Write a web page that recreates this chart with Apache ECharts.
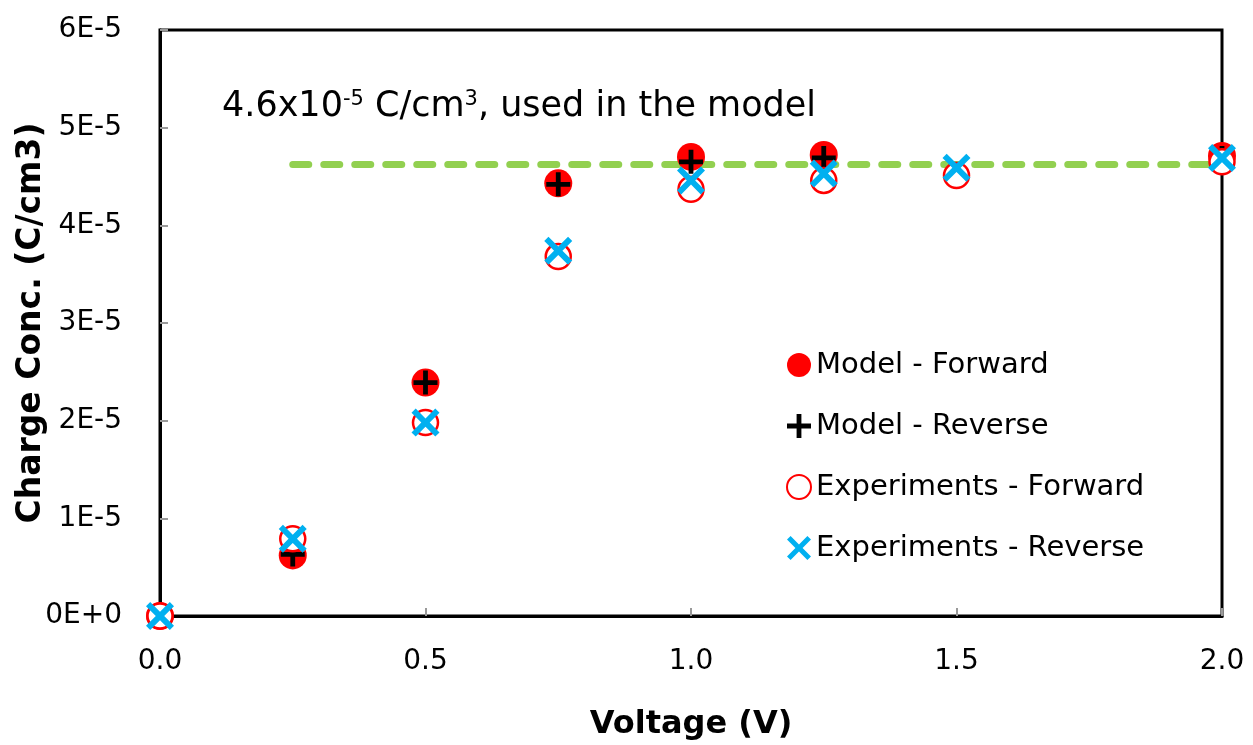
<!DOCTYPE html>
<html>
<head>
<meta charset="utf-8">
<script src="https://cdn.jsdelivr.net/npm/echarts@6/dist/echarts.min.js"></script>
<style>
html,body{margin:0;padding:0;background:#fff;}
#chart{width:1253px;height:745px;}
</style>
</head>
<body>
<div id="chart"></div>
<script>
// ---- data ----
var modelVoltage = [0, 0.25, 0.5, 0.75, 1.0, 1.25, 2.0];
var modelForward = [0, 0.62e-5, 2.39e-5, 4.43e-5, 4.70e-5, 4.72e-5, 4.71e-5];
var modelReverse = [0, 0.63e-5, 2.39e-5, 4.42e-5, 4.65e-5, 4.69e-5, 4.69e-5];
var expVoltage = [0, 0.25, 0.5, 0.75, 1.0, 1.25, 1.5, 2.0];
var expForward = [0, 0.79e-5, 1.98e-5, 3.68e-5, 4.37e-5, 4.46e-5, 4.51e-5, 4.65e-5];
var expReverse = [0, 0.79e-5, 1.98e-5, 3.74e-5, 4.46e-5, 4.53e-5, 4.59e-5, 4.69e-5];
var modelValue = 4.63e-5;
var modelLineStart = 0.25;
var modelLineEnd = 2.0;
var seriesNames = ['Model - Forward', 'Model - Reverse', 'Experiments - Forward', 'Experiments - Reverse'];
var xTickLabels = ['0.0', '0.5', '1.0', '1.5', '2.0'];
var yTickLabels = ['0E+0', '1E-5', '2E-5', '3E-5', '4E-5', '5E-5', '6E-5'];

function pairs(xs, ys) { return xs.map(function (x, i) { return [x, ys[i]]; }); }

var FONT = '"DejaVu Sans"';
var plusPath = 'path://M-1,-5 H1 V-1 H5 V1 H1 V5 H-1 V1 H-5 V-1 H-1 Z';
var xPath = 'path://M-5,-3.5 L-3.5,-5 L0,-1.5 L3.5,-5 L5,-3.5 L1.5,0 L5,3.5 L3.5,5 L0,1.5 L-3.5,5 L-5,3.5 L-1.5,0 Z';

var chart = echarts.init(document.getElementById('chart'), null, {renderer: 'canvas'});
var option = {
  backgroundColor: '#fff',
  animation: false,
  textStyle: {fontFamily: FONT},
  grid: {left: 160, right: 31, top: 30, bottom: 129, containLabel: false, outerBoundsMode: 'none',
    show: true, borderColor: '#000', borderWidth: 3, backgroundColor: 'transparent'},
  xAxis: {
    type: 'value', min: 0, max: 2, interval: 0.5,
    name: 'Voltage (V)', nameLocation: 'middle', nameGap: 93, nameMoveOverlap: false,
    nameTextStyle: {fontSize: 32, fontWeight: 'bold', color: '#000', fontFamily: FONT},
    axisLine: {show: true, lineStyle: {color: '#000', width: 3}},
    axisTick: {show: true, inside: true, length: 8, lineStyle: {color: '#999', width: 2}},
    axisLabel: {fontSize: 28, color: '#000', margin: 32, fontFamily: FONT,
      formatter: function (v) { return xTickLabels[Math.round(v / 0.5)]; }},
    splitLine: {show: false}
  },
  yAxis: {
    type: 'value', min: 0, max: 6e-5, interval: 1e-5,
    name: 'Charge Conc. (C/cm3)', nameLocation: 'middle', nameGap: 112, nameRotate: 90, nameMoveOverlap: false,
    nameTextStyle: {fontSize: 33, fontWeight: 'bold', color: '#000', fontFamily: FONT},
    axisLine: {show: true, lineStyle: {color: '#000', width: 3}},
    axisTick: {show: true, inside: true, length: 8, lineStyle: {color: '#999', width: 2}},
    axisLabel: {fontSize: 28, color: '#000', margin: 38, fontFamily: FONT,
      formatter: function (v) { return yTickLabels[Math.round(v / 1e-5)]; }},
    splitLine: {show: false}
  },
  legend: {
    orient: 'vertical', left: 781, top: 345,
    itemWidth: 24, itemHeight: 24, itemGap: 31,
    textStyle: {fontSize: 29, color: '#000', lineHeight: 30, fontFamily: FONT},
    data: [
      {name: seriesNames[0], icon: 'circle'},
      {name: seriesNames[1], icon: plusPath},
      {name: seriesNames[2], icon: 'circle'},
      {name: seriesNames[3], icon: xPath}
    ]
  },
  graphic: [{
    type: 'text', left: 222, top: 89, z: 10,
    style: {
      text: '4.6x10{sup|-5} C/cm{sup|3}, used in the model',
      font: '35px ' + FONT, fill: '#000',
      rich: {sup: {fontSize: 21, verticalAlign: 'top', padding: [0, 0, 14, 0], fontFamily: FONT, fill: '#000'}}
    }
  }],
  series: [
    {
      name: seriesNames[0], type: 'scatter', clip: false, z: 2,
      symbol: 'circle', symbolSize: 28,
      itemStyle: {color: '#FF0000', opacity: 1},
      data: pairs(modelVoltage, modelForward),
      markLine: {
        silent: true, symbol: 'none', z: 1,
        lineStyle: {color: '#92D050', width: 7, type: [16, 15], cap: 'round', opacity: 1},
        label: {show: false},
        data: [[{coord: [modelLineStart, modelValue]}, {coord: [modelLineEnd, modelValue]}]]
      }
    },
    {
      name: seriesNames[1], type: 'scatter', clip: false, z: 3,
      symbol: plusPath, symbolSize: 24,
      itemStyle: {color: '#000', opacity: 1},
      data: pairs(modelVoltage, modelReverse)
    },
    {
      name: seriesNames[2], type: 'scatter', clip: false, z: 4,
      symbol: 'circle', symbolSize: 25,
      itemStyle: {color: '#fff', borderColor: '#FF0000', borderWidth: 2.5, opacity: 1},
      data: pairs(expVoltage, expForward)
    },
    {
      name: seriesNames[3], type: 'scatter', clip: false, z: 5,
      symbol: xPath, symbolSize: 28,
      itemStyle: {color: '#00B0F0', opacity: 1},
      data: pairs(expVoltage, expReverse)
    }
  ]
};
chart.setOption(option);
</script>
</body>
</html>
